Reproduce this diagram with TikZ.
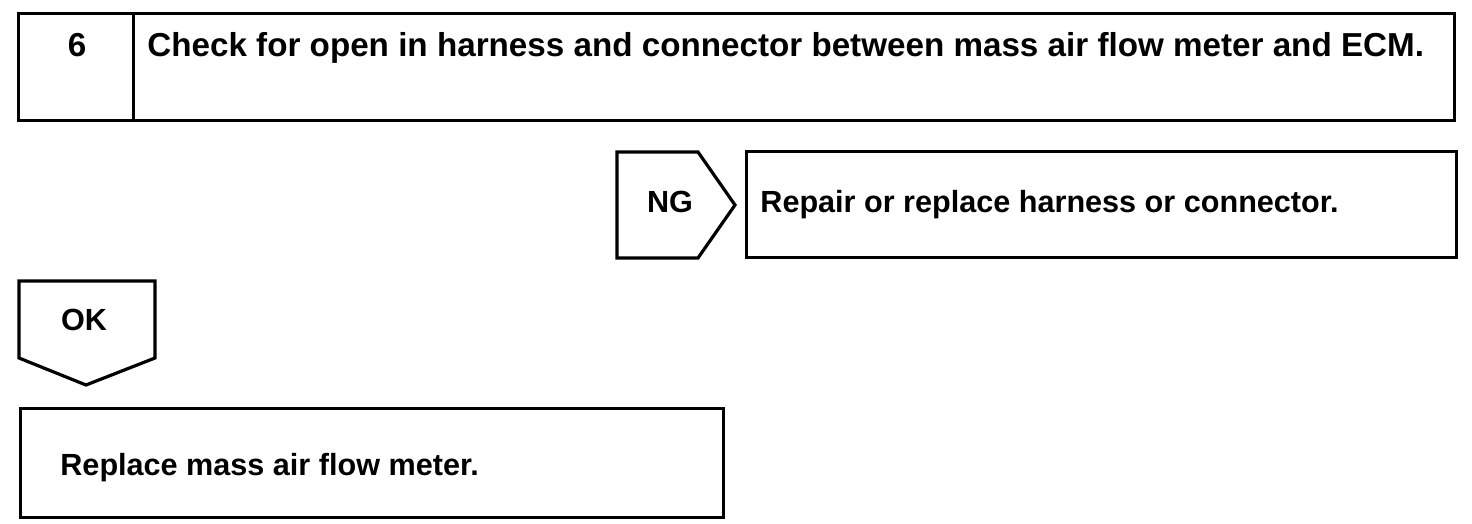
\documentclass[tikz,border=0pt]{standalone}
\usepackage{fontspec}
\setmainfont{Liberation Sans}
\usetikzlibrary{positioning}
\tikzset{box/.style={draw,line width=1.6pt,inner sep=0pt,anchor=north west},
         tag/.style={draw,line width=1.6pt,line join=miter},
         txt/.style={font=\bfseries\fontsize{15.3}{18}\selectfont,inner sep=0pt},
         head/.style={font=\bfseries\fontsize{16.6}{20}\selectfont,inner sep=0pt},
        }
\begin{document}
\begin{tikzpicture}[x=0.5pt,y=-0.5pt]
        \useasboundingbox (0,0) rectangle (1472,524);
        \node[box,minimum width=57.5pt,minimum height=53.5pt](num)at(17,12){};
        \node[box,minimum width=660.5pt,minimum height=53.5pt](title)at(132,12){};
        \node[head,anchor=base](n6)at(77,57){6};
        \node[head,anchor=base west](check)at(147,57){Check for open in harness and connector between mass air flow meter and ECM.};
        % NG branch
        \draw[tag](617,152)--(698,152)--(735,205)--(698,258)--(617,258)--cycle;
        \node[txt,anchor=base](ng)at(670,213){NG};
        \node[box,minimum width=355pt,minimum height=53pt](repair)at(745,150){};
        \node[txt,anchor=base west](fix)at(760,213){Repair or replace harness or connector.};
        % OK branch
        \draw[tag](19,281)--(155,281)--(155,358)--(86,385)--(19,358)--cycle;
        \node[txt,anchor=base](ok)at(84,330){OK};
        \node[box,minimum width=351.5pt,minimum height=54.5pt](meter)at(19,407){};
        \node[txt,anchor=base west](swap)at(60,475){Replace mass air flow meter.};
\end{tikzpicture}
\end{document}
